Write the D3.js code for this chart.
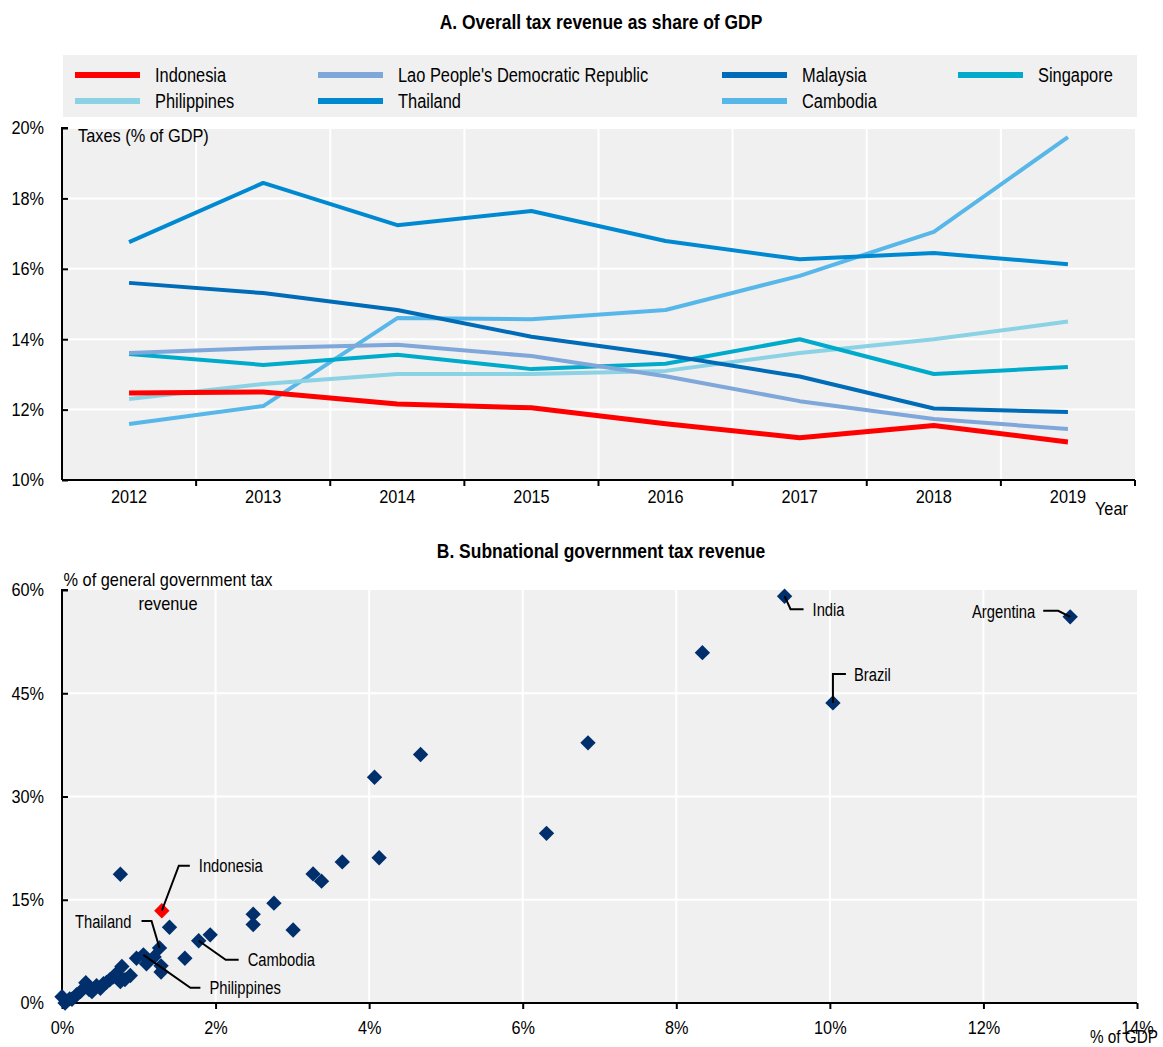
<!DOCTYPE html>
<html>
<head>
<meta charset="utf-8">
<script src="https://cdn.jsdelivr.net/npm/d3@7"></script>
<style>
  body { margin: 0; background: #fff; }
  svg { display: block; }
  text { font-family: "Liberation Sans", Arial, sans-serif; fill: #000; }
</style>
</head>
<body>
<svg id="chart" width="1163" height="1047"></svg>
<script>
// ---------- Panel A: tax revenue as % of GDP ----------
const years = [2012, 2013, 2014, 2015, 2016, 2017, 2018, 2019];
const seriesNames = ["Indonesia", "Lao People's Democratic Republic", "Malaysia", "Singapore",
                     "Philippines", "Thailand", "Cambodia"];
const indonesia   = [12.47, 12.50, 12.16, 12.05, 11.60, 11.20, 11.55, 11.08];
const lao         = [13.61, 13.75, 13.84, 13.52, 12.95, 12.24, 11.73, 11.45];
const malaysia    = [15.60, 15.31, 14.83, 14.07, 13.55, 12.94, 12.03, 11.93];
const singapore   = [13.58, 13.27, 13.56, 13.15, 13.30, 14.00, 13.01, 13.21];
const philippines = [12.30, 12.73, 13.01, 13.01, 13.10, 13.61, 14.00, 14.50];
const thailand    = [16.76, 18.44, 17.24, 17.64, 16.79, 16.27, 16.45, 16.13];
const cambodia    = [11.59, 12.10, 14.60, 14.57, 14.83, 15.80, 17.05, 19.74];
const yTicksA = [10, 12, 14, 16, 18, 20];

// ---------- Panel B: subnational tax revenue ----------
// x: % of GDP, y: % of general government tax revenue
const sngGdp = [0.00, 0.04, 0.10, 0.13, 0.19, 0.24, 0.31, 0.35, 0.39, 0.45, 0.50, 0.54, 0.58,
                0.62, 0.67, 0.71, 0.76, 0.78, 0.82, 0.89, 0.97, 1.06, 1.10, 1.20, 1.27, 1.29,
                1.29, 1.60, 1.78, 1.93, 1.40, 0.76, 2.49, 2.49, 2.76, 3.01, 3.27, 3.38, 3.65,
                4.13, 4.07, 4.67, 6.31, 6.85, 8.34, 9.41, 10.04, 13.13, 1.30];
const sngTax = [0.90, 0.00, 0.60, 0.55, 1.20, 1.65, 2.95, 2.00, 1.65, 2.50, 2.13, 2.80, 3.00,
                3.35, 3.80, 4.30, 3.10, 5.30, 3.40, 4.00, 6.50, 7.00, 5.70, 6.70, 8.00, 5.40,
                4.50, 6.50, 9.05, 9.90, 11.00, 18.70, 12.90, 11.40, 14.50, 10.60, 18.75, 17.70, 20.50,
                21.10, 32.80, 36.10, 24.65, 37.80, 50.90, 59.10, 43.60, 56.10, 13.40];
const sngName = ["", "", "", "", "", "", "", "", "", "", "", "", "",
                 "", "", "", "", "", "", "", "", "Philippines", "", "", "Thailand", "",
                 "", "", "Cambodia", "", "", "", "", "", "", "", "", "", "",
                 "", "", "", "", "", "", "India", "Brazil", "Argentina", "Indonesia"];
const xTicksB = [0, 2, 4, 6, 8, 10, 12, 14];
const yTicksB = [0, 15, 30, 45, 60];

const colors = {
  "Indonesia": "#ff0000",
  "Lao People's Democratic Republic": "#7fa7da",
  "Malaysia": "#006bb6",
  "Singapore": "#00aacb",
  "Philippines": "#8ad2e4",
  "Thailand": "#0089d0",
  "Cambodia": "#57b7e9"
};
const seriesValues = {
  "Indonesia": indonesia,
  "Lao People's Democratic Republic": lao,
  "Malaysia": malaysia,
  "Singapore": singapore,
  "Philippines": philippines,
  "Thailand": thailand,
  "Cambodia": cambodia
};

const svg = d3.select("#chart");
const BG = "#f0f0f0";

// Narrow look: squeeze each text to a fraction k of its natural width.
function condense(sel, k) {
  if (k === 1) return;
  sel.each(function () {
    const w = this.getComputedTextLength();
    d3.select(this).attr("textLength", (w * k).toFixed(1)).attr("lengthAdjust", "spacingAndGlyphs");
  });
}
function txt(parent, x, y, str, size, k, anchor = "start", bold = false) {
  const t = parent.append("text")
    .attr("x", x).attr("y", y).attr("dy", "0.35em")
    .attr("text-anchor", anchor)
    .style("font-size", size + "px")
    .style("font-weight", bold ? "bold" : null)
    .text(str);
  condense(t, k);
  return t;
}
function condenseAxis(g, size, k) {
  g.attr("font-family", null).attr("font-size", null);
  const t = g.selectAll("text").style("font-size", size + "px");
  condense(t, k);
}

const TICK_FS = 18.5, TICK_K = 0.88;

// ================= Panel A =================
const A = { left: 62, right: 1135, top: 128, bottom: 480 };
const xA = d3.scaleBand().domain(years).range([A.left, A.right]);
const yA = d3.scaleLinear().domain([10, 20]).range([A.bottom, A.top]);

txt(svg, 601, 22, "A. Overall tax revenue as share of GDP", 21, 0.83, "middle", true);

// legend
const legend = svg.append("g");
legend.append("rect").attr("x", 63).attr("y", 55).attr("width", 1074).attr("height", 62).attr("fill", BG);
const legendCols = [75, 318, 722, 958];
const legendRows = [75, 101];
const legendOrder = [
  ["Indonesia", 0, 0], ["Lao People's Democratic Republic", 1, 0], ["Malaysia", 2, 0], ["Singapore", 3, 0],
  ["Philippines", 0, 1], ["Thailand", 1, 1], ["Cambodia", 2, 1]
];
legendOrder.forEach(([name, c, r]) => {
  const x = legendCols[c], y = legendRows[r];
  legend.append("line").attr("x1", x).attr("x2", x + 65).attr("y1", y).attr("y2", y)
    .attr("stroke", colors[name]).attr("stroke-width", 6);
  txt(legend, x + 80, y, name, 20, 0.82);
});

const gA = svg.append("g");
gA.append("rect").attr("x", A.left).attr("y", A.top).attr("width", A.right - A.left)
  .attr("height", A.bottom - A.top).attr("fill", BG);
// horizontal gridlines
gA.selectAll(".hg").data(yTicksA.filter(d => d > 10)).join("line")
  .attr("x1", A.left).attr("x2", A.right).attr("y1", d => yA(d)).attr("y2", d => yA(d))
  .attr("stroke", "#fff").attr("stroke-width", 2);
// vertical gridlines at the year boundaries
const boundaries = years.slice(1).map(y => xA(y));
gA.selectAll(".vg").data(boundaries).join("line")
  .attr("x1", d => d).attr("x2", d => d).attr("y1", A.top).attr("y2", A.bottom)
  .attr("stroke", "#fff").attr("stroke-width", 2);

// lines
const lineA = d3.line().x((d, i) => xA(years[i]) + xA.bandwidth() / 2).y(d => yA(d));
const drawOrder = ["Cambodia", "Thailand", "Philippines", "Singapore", "Malaysia",
                   "Lao People's Democratic Republic", "Indonesia"];
drawOrder.forEach(name => {
  gA.append("path").datum(seriesValues[name]).attr("d", lineA)
    .attr("fill", "none").attr("stroke", colors[name])
    .attr("stroke-width", name === "Indonesia" ? 5 : 4)
    .attr("stroke-linejoin", "round");
});

// axes
const yAxisA = d3.axisLeft(yA).tickValues(yTicksA).tickSize(-6).tickPadding(18)
  .tickFormat(d => d + "%");
const gyA = gA.append("g").attr("transform", `translate(${A.left},0)`).call(yAxisA);
gyA.select(".domain").attr("d", `M6,${A.top}H0V${A.bottom}`).attr("stroke-width", 2);
gyA.selectAll(".tick line").attr("stroke-width", 2);
condenseAxis(gyA, TICK_FS, TICK_K);

const xAxisA = d3.axisBottom(xA).tickSize(0).tickPadding(10);
const gxA = gA.append("g").attr("transform", `translate(0,${A.bottom})`).call(xAxisA);
gxA.select(".domain").attr("d", `M${A.left},0H${A.right}`).attr("stroke-width", 2);
condenseAxis(gxA, TICK_FS, TICK_K);
gA.selectAll(".xtA").data(boundaries.concat([A.right])).join("line")
  .attr("x1", d => d).attr("x2", d => d).attr("y1", A.bottom).attr("y2", A.bottom + 6)
  .attr("stroke", "#000").attr("stroke-width", 2);

txt(gA, 78, A.top + 7, "Taxes (% of GDP)", 19, 0.86);
txt(gA, 1095, 509, "Year", TICK_FS, TICK_K);

// ================= Panel B =================
const B = { left: 62, right: 1137, top: 590, bottom: 1003 };
const xB = d3.scaleLinear().domain([0, 14]).range([B.left, B.right]);
const yB = d3.scaleLinear().domain([0, 60]).range([B.bottom, B.top]);

txt(svg, 601, 551, "B. Subnational government tax revenue", 21, 0.83, "middle", true);

const gB = svg.append("g");
gB.append("rect").attr("x", B.left).attr("y", B.top).attr("width", B.right - B.left)
  .attr("height", B.bottom - B.top).attr("fill", BG);
gB.selectAll(".hg").data(yTicksB.filter(d => d > 0 && d < 60)).join("line")
  .attr("x1", B.left).attr("x2", B.right).attr("y1", d => yB(d)).attr("y2", d => yB(d))
  .attr("stroke", "#fff").attr("stroke-width", 2);
gB.selectAll(".vg").data(xTicksB.filter(d => d > 0 && d < 14)).join("line")
  .attr("x1", d => xB(d)).attr("x2", d => xB(d)).attr("y1", B.top).attr("y2", B.bottom)
  .attr("stroke", "#fff").attr("stroke-width", 2);

const yAxisB = d3.axisLeft(yB).tickValues(yTicksB).tickSize(-6).tickPadding(18)
  .tickFormat(d => d + "%");
const gyB = gB.append("g").attr("transform", `translate(${B.left},0)`).call(yAxisB);
gyB.select(".domain").attr("d", `M6,${B.top}H0V${B.bottom}`).attr("stroke-width", 2);
gyB.selectAll(".tick line").attr("stroke-width", 2);
condenseAxis(gyB, TICK_FS, TICK_K);

const xAxisB = d3.axisBottom(xB).tickValues(xTicksB).tickSize(6).tickPadding(12)
  .tickFormat(d => d + "%");
const gxB = gB.append("g").attr("transform", `translate(0,${B.bottom})`).call(xAxisB);
gxB.select(".domain").attr("d", `M${B.left},0H${B.right}`).attr("stroke-width", 2);
gxB.selectAll(".tick line").attr("stroke-width", 2);
condenseAxis(gxB, TICK_FS, TICK_K);

txt(gB, 168, 579, "% of general government tax", 19, 0.86, "middle");
txt(gB, 168, 603, "revenue", 19, 0.86, "middle");
txt(gB, 1158, 1037, "% of GDP", 18, 0.85, "end");

// scatter points
const pts = sngGdp.map((x, i) => ({ x, y: sngTax[i], name: sngName[i] }));
const diamond = d3.symbol().type(d3.symbolSquare).size(118);
gB.selectAll(".pt").data(pts).join("path")
  .attr("d", diamond)
  .attr("transform", d => `translate(${xB(d.x)},${yB(d.y)}) rotate(45)`)
  .attr("fill", d => d.name === "Indonesia" ? "#ff0000" : "#002f6c");

// labels with leader lines (offsets in px from the point)
const labelLayout = {
  "Indonesia":   { path: [[17, -45], [28, -45]], tx: 37, ty: -45, anchor: "start" },
  "Thailand":    { path: [[-8, -27], [-18, -27]], tx: -28, ty: -26, anchor: "end" },
  "Philippines": { path: [[47, 33], [57, 33]], tx: 66, ty: 33, anchor: "start" },
  "Cambodia":    { path: [[27, 19], [40, 19]], tx: 49, ty: 19, anchor: "start" },
  "India":       { path: [[6, 13], [19, 13]], tx: 28, ty: 14, anchor: "start" },
  "Brazil":      { path: [[0, -29], [13, -29]], tx: 21, ty: -28, anchor: "start" },
  "Argentina":   { path: [[-12, -6], [-27, -6]], tx: -35, ty: -5, anchor: "end" }
};
pts.filter(d => d.name).forEach(d => {
  const L = labelLayout[d.name];
  const px = xB(d.x), py = yB(d.y);
  const coords = [[px, py]].concat(L.path.map(([dx, dy]) => [px + dx, py + dy]));
  gB.append("path").attr("d", d3.line()(coords)).attr("fill", "none")
    .attr("stroke", "#000").attr("stroke-width", 2);
  txt(gB, px + L.tx, py + L.ty, d.name, 18, 0.82, L.anchor);
});
</script>
</body>
</html>
